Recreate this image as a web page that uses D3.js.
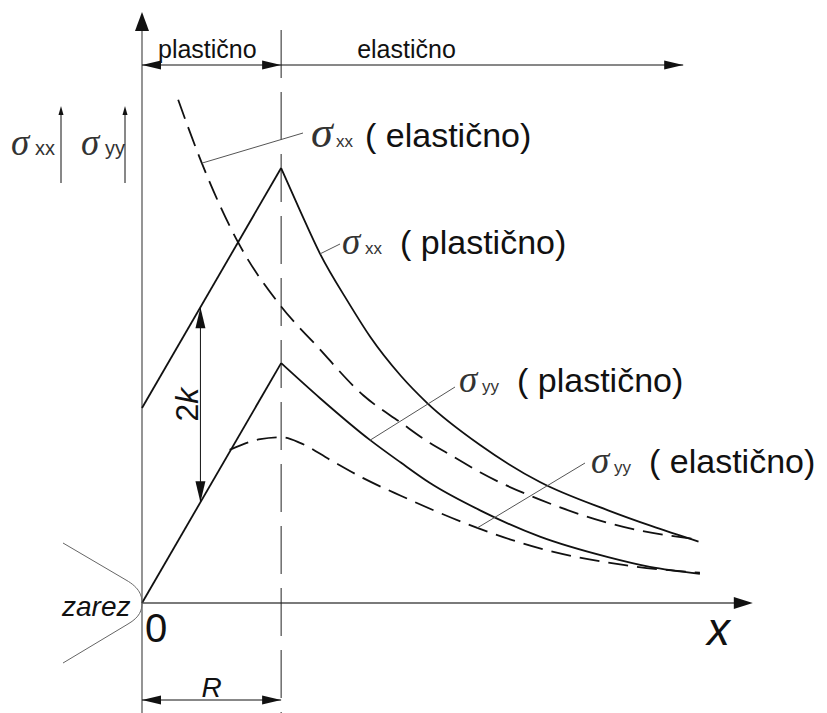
<!DOCTYPE html>
<html>
<head>
<meta charset="utf-8">
<script src="https://cdn.jsdelivr.net/npm/d3@7"></script>
<style>
  body { margin: 0; background: #fff; }
  svg { display: block; font-family: "Liberation Sans", Arial, sans-serif; }
</style>
</head>
<body>
<svg id="chart"></svg>
<script>
// distance x in units of R (size of plastic zone), stress in units of k
const sxxPlasticLinear = [[0, 2.0], [1, 4.46]];
const sxxPlasticDecay = [[1, 4.46], [1.14, 4.01], [1.28, 3.58], [1.48, 3.09], [1.64, 2.73], [1.86, 2.33],
  [2.05, 2.05], [2.43, 1.62], [2.86, 1.24], [3.35, 0.95], [3.66, 0.79], [4.0, 0.63]];
const syyPlasticLinear = [[0, 0], [1, 2.46]];
const syyPlasticDecay = [[1, 2.46], [1.28, 2.10], [1.64, 1.67], [1.86, 1.44], [2.07, 1.23], [2.43, 0.95],
  [2.86, 0.68], [3.35, 0.47], [3.65, 0.37], [4.01, 0.30]];
const sxxElastic = [[0.26, 5.16], [0.43, 4.51], [0.69, 3.70], [1, 3.04], [1.26, 2.63], [1.59, 2.13],
  [1.86, 1.85], [2.07, 1.64], [2.24, 1.50], [2.43, 1.34], [2.86, 1.06], [3.46, 0.78], [4.0, 0.65]];
const syyElastic = [[0.63, 1.57], [0.85, 1.68], [1, 1.70], [1.14, 1.64], [1.35, 1.47], [1.59, 1.28],
  [1.86, 1.10], [2.41, 0.77], [2.86, 0.56], [3.46, 0.39], [4.01, 0.31]];

const zoneNames = ['plastično', 'elastično'];
const zoneBounds = [0, 1, 3.89];
const twoK = 2;
const twoKAt = 0.42;

// curve labels: which series, the point the leader starts on, and the label text
const curveLabels = [
  {sub: 'xx', mode: 'elastično', series: sxxElastic, at: 1},
  {sub: 'xx', mode: 'plastično', series: sxxPlasticDecay, at: 2},
  {sub: 'yy', mode: 'plastično', series: syyPlasticDecay, at: 2},
  {sub: 'yy', mode: 'elastično', series: syyElastic, at: 7},
];
// where each leader ends and the label sits (pixels)
const labelLayout = [
  {lx: 303, ly: 133, sx: 311, base: 147, sigmaSize: 44},
  {lx: 340, ly: 244, sx: 342, base: 254, sigmaSize: 37},
  {lx: 455, ly: 387, sx: 459, base: 392, sigmaSize: 37},
  {lx: 585, ly: 463, sx: 591, base: 473, sigmaSize: 37},
];

const width = 827;
const height = 713;

const svg = d3.select('#chart')
    .attr('width', width)
    .attr('height', height);

svg.append('rect')
    .attr('width', width)
    .attr('height', height)
    .attr('fill', '#fff');

const x = d3.scaleLinear().domain([0, 4.37]).range([142, 750]);
const y = d3.scaleLinear().domain([0, 6.06]).range([603, 12]);

const ink = '#111';
const grey = '#7a7a7a';

function arrowHead(g, tx, ty, dx, dy, len, half, color) {
  const bx = tx - dx * len;
  const by = ty - dy * len;
  const px = -dy * half;
  const py = dx * half;
  g.append('path')
      .attr('d', `M${tx},${ty}L${bx + px},${by + py}L${bx - px},${by - py}Z`)
      .attr('fill', color || ink);
}

const gAxes = svg.append('g');

// y axis (continues below the x axis)
gAxes.append('line')
    .attr('x1', x(0)).attr('x2', x(0))
    .attr('y1', height).attr('y2', y(6.06) + 14)
    .attr('stroke', grey).attr('stroke-width', 1.6);
arrowHead(gAxes, x(0), y(6.06), 0, -1, 19, 7);

// x axis
gAxes.append('line')
    .attr('x1', x(0)).attr('x2', x(4.37) - 14)
    .attr('y1', y(0)).attr('y2', y(0))
    .attr('stroke', grey).attr('stroke-width', 2);
arrowHead(gAxes, x(4.39), y(0), 1, 0, 19, 6);

// boundary between plastic and elastic zone
gAxes.append('line')
    .attr('x1', x(1)).attr('x2', x(1))
    .attr('y1', 30).attr('y2', height)
    .attr('stroke', '#222').attr('stroke-width', 1)
    .attr('stroke-dasharray', '48,14');

// zone dimension line on top
const dimY = 65;
const gDim = svg.append('g');
gDim.append('line')
    .attr('x1', x(zoneBounds[0])).attr('x2', x(zoneBounds[2]))
    .attr('y1', dimY).attr('y2', dimY)
    .attr('stroke', ink).attr('stroke-width', 1);
arrowHead(gDim, x(zoneBounds[0]), dimY, -1, 0, 19, 4.5);
arrowHead(gDim, x(zoneBounds[1]), dimY, 1, 0, 19, 4.5);
arrowHead(gDim, x(zoneBounds[2]), dimY, 1, 0, 19, 4.5);

gDim.selectAll('text.zone')
    .data(zoneNames)
    .join('text')
    .attr('class', 'zone')
    .attr('x', (d, i) => i === 0 ? x(zoneBounds[0]) + 16 : x(zoneBounds[1]) + 76)
    .attr('y', 58)
    .attr('font-size', 25)
    .attr('fill', ink)
    .text((d) => d);

// R dimension at the bottom
const rY = 700;
gDim.append('line')
    .attr('x1', x(0)).attr('x2', x(1))
    .attr('y1', rY).attr('y2', rY)
    .attr('stroke', ink).attr('stroke-width', 1);
arrowHead(gDim, x(0), rY, -1, 0, 19, 4.5);
arrowHead(gDim, x(1), rY, 1, 0, 19, 4.5);
gDim.append('text')
    .attr('x', x(0.5))
    .attr('y', 697)
    .attr('text-anchor', 'middle')
    .attr('font-size', 28)
    .attr('font-style', 'italic')
    .attr('fill', ink)
    .text('R');

// curves
const line = d3.line().x((d) => x(d[0])).y((d) => y(d[1]));
const smooth = d3.line().x((d) => x(d[0])).y((d) => y(d[1])).curve(d3.curveMonotoneX);

const gCurves = svg.append('g')
    .attr('fill', 'none')
    .attr('stroke', ink)
    .attr('stroke-width', 1.8);

[sxxPlasticLinear, syyPlasticLinear].forEach(function(s) {
  gCurves.append('path').attr('d', line(s));
});
[sxxPlasticDecay, syyPlasticDecay].forEach(function(s) {
  gCurves.append('path').attr('d', smooth(s));
});
[sxxElastic, syyElastic].forEach(function(s) {
  gCurves.append('path')
      .attr('d', smooth(s))
      .attr('stroke-dasharray', '20,9');
});

// 2k dimension
const kx = x(twoKAt);
const kTop = y(sxxPlasticLinear[0][1] + twoKAt * (sxxPlasticLinear[1][1] - sxxPlasticLinear[0][1]));
const kBot = y(twoKAt * syyPlasticLinear[1][1]);
gDim.append('line')
    .attr('x1', kx).attr('x2', kx)
    .attr('y1', kTop).attr('y2', kBot)
    .attr('stroke', ink).attr('stroke-width', 1);
arrowHead(gDim, kx, kTop, 0, -1, 21, 5);
arrowHead(gDim, kx, kBot, 0, 1, 21, 5);
const kLabel = gDim.append('text')
    .attr('transform', `translate(${kx - 2},${(kTop + kBot) / 2}) rotate(-90)`)
    .attr('text-anchor', 'middle')
    .attr('font-size', 32)
    .attr('fill', ink);
kLabel.append('tspan').text(String(twoK));
kLabel.append('tspan').attr('font-style', 'italic').text('k');

// leaders and labels
const gLabels = svg.append('g');
curveLabels.forEach(function(c, i) {
  const p = c.series[c.at];
  const L = labelLayout[i];
  gLabels.append('line')
      .attr('x1', x(p[0])).attr('y1', y(p[1]))
      .attr('x2', L.lx).attr('y2', L.ly)
      .attr('stroke', '#555').attr('stroke-width', 1);
  gLabels.append('text')
      .attr('x', L.sx).attr('y', L.base)
      .attr('font-family', '"Liberation Serif", serif')
      .attr('font-style', 'italic')
      .attr('font-size', L.sigmaSize)
      .attr('fill', '#333')
      .text('σ');
  gLabels.append('text')
      .attr('x', L.sx + (i === 0 ? 25 : 23)).attr('y', L.base)
      .attr('font-size', 17)
      .attr('fill', '#333')
      .text(c.sub);
  gLabels.append('text')
      .attr('x', L.sx + (i === 0 ? 54 : 58)).attr('y', L.base)
      .attr('font-size', 34)
      .attr('fill', ink)
      .text('( ' + c.mode + ')');
});

// stress direction markers on the left
[{sub: 'xx', sx: 11, ax: 61}, {sub: 'yy', sx: 81, ax: 125}].forEach(function(m) {
  gLabels.append('text')
      .attr('x', m.sx).attr('y', 155)
      .attr('font-family', '"Liberation Serif", serif')
      .attr('font-style', 'italic')
      .attr('font-size', 37)
      .attr('fill', '#333')
      .text('σ');
  gLabels.append('text')
      .attr('x', m.sx + 24).attr('y', 155)
      .attr('font-size', 20)
      .attr('fill', '#333')
      .text(m.sub);
  gLabels.append('line')
      .attr('x1', m.ax).attr('x2', m.ax)
      .attr('y1', 183).attr('y2', 112)
      .attr('stroke', ink).attr('stroke-width', 1);
  arrowHead(gLabels, m.ax, 106, 0, -1, 9, 2.5);
});

// notch
svg.append('path')
    .attr('d', 'M63,543L126,580C140,588 142,596 142,603C142,610 140,617 128,624L63,663')
    .attr('fill', 'none')
    .attr('stroke', '#666')
    .attr('stroke-width', 1);

svg.append('text')
    .attr('x', 62).attr('y', 616)
    .attr('font-size', 28)
    .attr('font-style', 'italic')
    .attr('fill', ink)
    .text('zarez');

svg.append('text')
    .attr('x', x(0) + 3).attr('y', 642)
    .attr('font-size', 40)
    .attr('fill', ink)
    .text('0');

svg.append('text')
    .attr('x', 707).attr('y', 645)
    .attr('font-size', 46)
    .attr('font-style', 'italic')
    .attr('fill', ink)
    .text('x');
</script>
</body>
</html>
